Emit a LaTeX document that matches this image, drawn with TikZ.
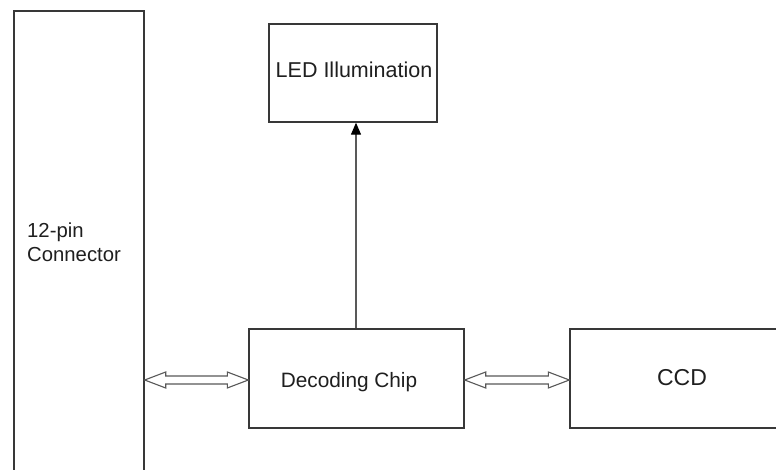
\documentclass[tikz,border=0pt]{standalone}
\usepackage{fontspec}
\setmainfont{Liberation Sans}
\usetikzlibrary{calc,arrows.meta}
\begin{document}
\begin{tikzpicture}[x=1pt,y=1pt,
  blk/.style={draw=black!78,line width=1.4pt,rectangle,inner sep=0pt},
  lbl/.style={font=\fontsize{20.3}{24}\selectfont,text=black!88,inner sep=0pt},
  dblarr/.style={draw=black!65,line width=1.1pt,fill=white,line join=miter},
  uparr/.style={draw=black!65,line width=1.3pt,-{Triangle[width=10pt,length=12pt,fill=black,color=black]}}]
\useasboundingbox (0,0) rectangle (776,469);
\clip (0,0) rectangle (776,469);
\fill[white] (0,0) rectangle (776,469);
% boxes
\node[blk,minimum width=130pt,minimum height=478pt] (conn) at (79,219) {};
\node[blk,minimum width=215pt,minimum height=99pt] (dec) at (356.5,90.5) {};
\node[blk,minimum width=168pt,minimum height=98pt] (led) at (353,396) {};
\node[blk,minimum width=230pt,minimum height=99pt] (ccd) at (685,90.5) {};
% texts
\node[lbl,align=left,anchor=west] (conntxt) at (27,227) {12-pin\\Connector};
\node[lbl,font=\fontsize{20.8}{24}\selectfont] (dectxt) at (349,87) {Decoding Chip};
\node[lbl,font=\fontsize{21.5}{24}\selectfont] (ledtxt) at (354,399) {LED Illumination};
\node[lbl,font=\fontsize{23}{27}\selectfont] (ccdtxt) at (682,91) {CCD};
% arrow levels
\coordinate (ay) at (0,89);
\coordinate (ax) at (356,0);
% double arrows
\coordinate (A1) at (conn.east |- ay);
\coordinate (B1) at (dec.west |- ay);
\coordinate (A2) at (dec.east |- ay);
\coordinate (B2) at (ccd.west |- ay);
\foreach \a/\b in {A1/B1,A2/B2}{
  \draw[dblarr] (\a) -- ++(21,8) -- ++(0,-4) -- ($(\b)+(-21,4)$) -- ++(0,4) -- (\b)
    -- ++(-21,-8) -- ++(0,4) -- ($(\a)+(21,-4)$) -- ++(0,-4) -- cycle;
}
% vertical arrow
\draw[uparr] (ax |- dec.north) -- (ax |- led.south);
\end{tikzpicture}
\end{document}
